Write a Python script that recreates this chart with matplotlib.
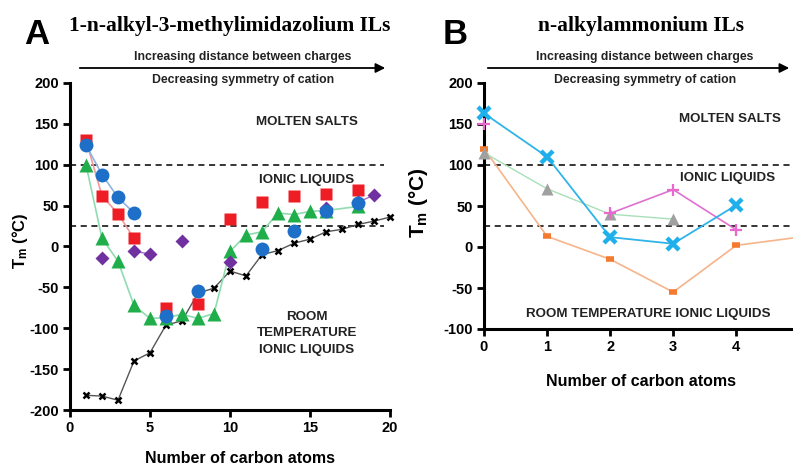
import numpy as np
import matplotlib
matplotlib.use("Agg")
import matplotlib.pyplot as plt

plt.rcParams['font.family'] = ['Liberation Sans', 'DejaVu Sans']
plt.rcParams['axes.unicode_minus'] = False
plt.rcParams['mathtext.fontset'] = 'custom'
plt.rcParams['mathtext.rm'] = 'Liberation Sans:bold'
plt.rcParams['mathtext.it'] = 'Liberation Sans:bold'
plt.rcParams['mathtext.bf'] = 'Liberation Sans:bold'

# ---- panel A : 1-n-alkyl-3-methylimidazolium ILs ----
black_x = list(range(1, 21))
black_y = [-182, -183, -188, -140, -130, -96, -91, -57, -51, -30,
           -36, -10, -5, 4, 9, 18, 21, 27, 31, 36]
red_x = [1, 2, 3, 4, 6, 8, 10, 12, 14, 16, 18]
red_y = [130, 62, 40, 10, -75, -70, 34, 55, 62, 64, 69]
blue_x = [1, 2, 3, 4, 6, 8, 12, 14, 16, 18]
blue_y = [124, 88, 60, 41, -85, -55, -3, 19, 43, 53]
green_x = [1, 2, 3, 4, 5, 6, 7, 8, 9, 10, 11, 12, 13, 14, 15, 16, 18]
green_y = [100, 10, -18, -72, -88, -87, -83, -88, -82, -6, 14, 18, 41, 39, 43, 44, 49]
purple_x = [2, 4, 5, 7, 10, 16, 18, 19]
purple_y = [-14, -6, -9, 7, -19, 47, 54, 63]

# ---- panel B : n-alkylammonium ILs ----
cyan_x = [0, 1, 2, 3, 4]
cyan_y = [163, 110, 12, 4, 51]
pink_x = [0, 2, 3, 4]
pink_y = [150, 41, 70, 21]
gray_x = [0, 1, 2, 3]
gray_y = [115, 71, 40, 34]
orange_x = [0, 1, 2, 3, 4, 5]
orange_y = [120, 13, -15, -55, 2, 12]

W, H = 793, 465
fig = plt.figure(figsize=(W / 100, H / 100), dpi=100)


def fx(px):
    return px / W


def fy(py):
    return 1 - py / H


def style_axes(ax):
    for s in ['top', 'right']:
        ax.spines[s].set_visible(False)
    for s in ['left', 'bottom']:
        ax.spines[s].set_linewidth(2.2)
    ax.tick_params(width=2, length=5, direction='out', labelsize=10.5, pad=3)
    for lab in ax.get_xticklabels() + ax.get_yticklabels():
        lab.set_fontweight('bold')


axA = fig.add_axes([fx(70), fy(410), fx(320), 327 / H])
axA.set_xlim(0, 20)
axA.set_ylim(-200, 200)
axA.set_xticks([0, 5, 10, 15, 20])
axA.set_yticks(np.arange(-200, 201, 50))
axA.plot([0, 19.6], [100, 100], 'k--', lw=1.1, dashes=(4, 3))
axA.plot([0, 19.6], [25, 25], 'k--', lw=1.1, dashes=(4, 3))

axA.plot(black_x, black_y, color='#555555', lw=1, zorder=2)
axA.plot(black_x, black_y, 'x', color='black', ms=4, mew=1.8, zorder=3, clip_on=False)
axA.plot(green_x, green_y, color='#8fdcb0', lw=1.2, zorder=2)
axA.plot(green_x, green_y, '^', color='#1fae4a', ms=10, mec='none', zorder=4)
axA.plot(red_x[:4], red_y[:4], color='#f39a9a', lw=1.2, zorder=2)
axA.plot(red_x, red_y, 's', color='#ee1c24', ms=9, mec='none', zorder=4)
axA.plot(purple_x[1:3], purple_y[1:3], color='#a070c8', lw=1, zorder=2)
axA.plot(purple_x[-2:], purple_y[-2:], color='#a070c8', lw=1, zorder=2)
axA.plot(purple_x, purple_y, 'D', color='#7030a0', ms=7, mec='none', zorder=4)
axA.plot(blue_x[:4], blue_y[:4], color='#8db4e2', lw=1.2, zorder=2)
axA.plot(blue_x, blue_y, 'o', color='#1e6fc8', ms=10, mec='none', zorder=5)
style_axes(axA)

kw = dict(ha='center', va='center', fontsize=9.6, fontweight='bold', color='#222222')
axA.text(14.8, 152, 'MOLTEN SALTS', **kw)
axA.text(14.8, 81, 'IONIC LIQUIDS', **kw)
axA.text(14.8, -106, 'ROOM\nTEMPERATURE\nIONIC LIQUIDS', linespacing=1.5, **kw)

axB = fig.add_axes([fx(484), fy(329), fx(309), 246 / H])
axB.set_xlim(0, 4.9)
axB.set_ylim(-100, 200)
axB.set_xticks([0, 1, 2, 3, 4])
axB.set_yticks(np.arange(-100, 201, 50))
axB.axhline(100, color='k', ls='--', lw=1.1, dashes=(4, 3))
axB.axhline(25, color='k', ls='--', lw=1.1, dashes=(4, 3))

axB.plot(orange_x, orange_y, color='#f7b48a', lw=1.2, zorder=2)
axB.plot(orange_x, orange_y, '_', color='#f47a30', ms=6, mew=4, zorder=4, clip_on=False)
axB.plot(gray_x, gray_y, color='#a8e0b8', lw=1, zorder=2)
axB.plot(gray_x, gray_y, '^', color='#a0a0a0', ms=8, mec='none', zorder=4, clip_on=False)
axB.plot(pink_x[1:], pink_y[1:], color='#e070d0', lw=1.2, zorder=2)
axB.plot(pink_x, pink_y, '+', color='#e868d0', ms=9, mew=1.6, zorder=4, clip_on=False)
axB.plot(cyan_x, cyan_y, color='#30b4e8', lw=1.3, zorder=3)
axB.plot(cyan_x, cyan_y, 'x', color='#1fb0ec', ms=9, mew=3.2, zorder=5, clip_on=False)
style_axes(axB)

axB.text(3.9, 156, 'MOLTEN SALTS', **kw)
axB.text(3.86, 84, 'IONIC LIQUIDS', **kw)
axB.text(2.6, -82, 'ROOM TEMPERATURE IONIC LIQUIDS', **kw)

# panel letters and titles
fig.text(fx(37), fy(35), 'A', fontsize=25, fontweight='bold', ha='center', va='center')
fig.text(fx(455), fy(35), 'B', fontsize=25, fontweight='bold', ha='center', va='center')
fig.text(fx(230), fy(26), '1-n-alkyl-3-methylimidazolium ILs', family='Liberation Serif',
         fontsize=15.5, fontweight='bold', ha='center', va='center')
fig.text(fx(641), fy(26), 'n-alkylammonium ILs', family='Liberation Serif',
         fontsize=15.5, fontweight='bold', ha='center', va='center')

# arrows with captions
for x0, x1, xc in [(77, 388, 243), (485, 792, 645)]:
    fig.add_artist(matplotlib.patches.FancyArrowPatch(
        (fx(x0), fy(68)), (fx(x1), fy(68)), transform=fig.transFigure,
        arrowstyle='-|>', mutation_scale=14, lw=1.3, color='black'))
    fig.text(fx(xc), fy(57), 'Increasing distance between charges', fontsize=8.8,
             fontweight='bold', ha='center', va='center', color='#222222')
    fig.text(fx(xc), fy(80), 'Decreasing symmetry of cation', fontsize=8.8,
             fontweight='bold', ha='center', va='center', color='#222222')

# axis labels
fig.text(fx(20), fy(241), r'T$_\mathrm{m}$ (°C)', rotation=90, fontsize=12,
         fontweight='bold', ha='center', va='center')
fig.text(fx(419), fy(203), r'T$_\mathrm{m}$ (°C)', rotation=90, fontsize=15,
         fontweight='bold', ha='center', va='center')
fig.text(fx(240), fy(458), 'Number of carbon atoms', fontsize=11.5,
         fontweight='bold', ha='center', va='center')
fig.text(fx(641), fy(381), 'Number of carbon atoms', fontsize=11.5,
         fontweight='bold', ha='center', va='center')

fig.savefig('out.png', dpi=100)
